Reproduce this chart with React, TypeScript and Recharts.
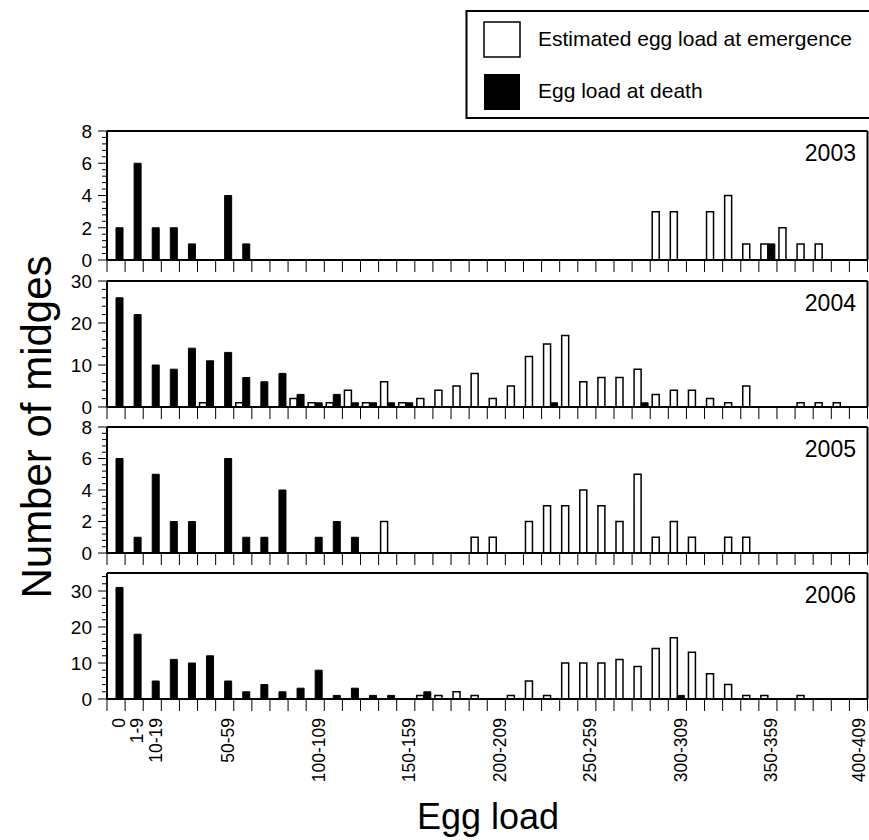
import React from 'react';
import { BarChart, Bar, XAxis, YAxis, ReferenceLine } from 'recharts';

const BINS = [
  '0', '1-9', '10-19', '20-29', '30-39', '40-49', '50-59', '60-69', '70-79', '80-89',
  '90-99', '100-109', '110-119', '120-129', '130-139', '140-149', '150-159', '160-169', '170-179', '180-189',
  '190-199', '200-209', '210-219', '220-229', '230-239', '240-249', '250-259', '260-269', '270-279', '280-289',
  '290-299', '300-309', '310-319', '320-329', '330-339', '340-349', '350-359', '360-369', '370-379', '380-389',
  '390-399', '400-409',
];

const TICK_LABELS = ['0', '1-9', '10-19', '50-59', '100-109', '150-159', '200-209', '250-259', '300-309', '350-359', '400-409'];

const YEARS = ['2003', '2004', '2005', '2006'];

// Estimated egg load at emergence (white bars)
const EM_2003 = [0,0,0,0,0,0,0,0,0,0, 0,0,0,0,0,0,0,0,0,0, 0,0,0,0,0,0,0,0,0,0, 3,3,0,3,4,1,1,2,1,1, 0,0];
const EM_2004 = [0,0,0,0,0,1,0,1,0,0, 2,1,1,4,1,6,1,2,4,5, 8,2,5,12,15,17,6,7,7,9, 3,4,4,2,1,5,0,0,1,1, 1,0];
const EM_2005 = [0,0,0,0,0,0,0,0,0,0, 0,0,0,0,0,2,0,0,0,0, 1,1,0,2,3,3,4,3,2,5, 1,2,1,0,1,1,0,0,0,0, 0,0];
const EM_2006 = [0,0,0,0,0,0,0,0,0,0, 0,0,0,0,0,0,0,1,1,2, 1,0,1,5,1,10,10,10,11,9, 14,17,13,7,4,1,1,0,1,0, 0,0];

// Egg load at death (black bars)
const DE_2003 = [2,6,2,2,1,0,4,1,0,0, 0,0,0,0,0,0,0,0,0,0, 0,0,0,0,0,0,0,0,0,0, 0,0,0,0,0,0,1,0,0,0, 0,0];
const DE_2004 = [26,22,10,9,14,11,13,7,6,8, 3,1,3,1,1,1,1,0,0,0, 0,0,0,0,1,0,0,0,0,1, 0,0,0,0,0,0,0,0,0,0, 0,0];
const DE_2005 = [6,1,5,2,2,0,6,1,1,4, 0,1,2,1,0,0,0,0,0,0, 0,0,0,0,0,0,0,0,0,0, 0,0,0,0,0,0,0,0,0,0, 0,0];
const DE_2006 = [31,18,5,11,10,12,5,2,4,2, 3,8,1,3,1,1,0,2,0,0, 0,0,0,0,0,0,0,0,0,0, 0,1,0,0,0,0,0,0,0,0, 0,0];

const EMERGENCE = [EM_2003, EM_2004, EM_2005, EM_2006];
const DEATH = [DE_2003, DE_2004, DE_2005, DE_2006];
const Y_MAX = [8, 30, 8, 35];
const Y_MINOR = [0.4, 2, 0.4, 2];
const Y_MAJOR = [2, 10, 2, 10];

const FONT = '"Liberation Sans", Arial, Helvetica, sans-serif';
const W = 869;
const Y_AXIS_W = 107;
const MARGIN_RIGHT = 1.5;
const PLOT_W = W - Y_AXIS_W - MARGIN_RIGHT;
const BIN_W = PLOT_W / BINS.length;
const PLOT_TOPS = [131, 281, 427, 573];
const PLOT_HS = [129, 126, 126, 126];
const MT = 14;

function makeTicks(max: number, step: number): number[] {
  const out: number[] = [];
  const n = Math.round(max / step);
  for (let i = 0; i <= n; i++) out.push(+(i * step).toFixed(4));
  return out.filter((v) => v <= max);
}

const X_TICKS = BINS.map((_, i) => i).concat([BINS.length]);

function YTick(props: any) {
  const { x, y, payload, major } = props;
  const v = payload.value;
  const isMajor = Math.abs(v / major - Math.round(v / major)) < 1e-6;
  return (
    <g>
      <line x1={x} x2={x - (isMajor ? 9 : 5)} y1={y} y2={y} stroke="#000" strokeWidth={1} />
      {isMajor ? (
        <text x={x - 15} y={y} dy="0.36em" textAnchor="end" fontSize={19} fontFamily={FONT} fill="#000">
          {String(Math.round(v))}
        </text>
      ) : null}
    </g>
  );
}

function XTick(props: any) {
  const { x, y, payload, show } = props;
  const i = payload.value;
  if (!show || i >= BINS.length) return <g />;
  const label = BINS[i];
  if (!TICK_LABELS.includes(label)) return <g />;
  const cx = Math.min(x + BIN_W / 2 + 3, W - 10);
  const ty = y + 7;
  return (
    <text
      x={cx}
      y={ty}
      dy="0.36em"
      transform={`rotate(-90, ${cx}, ${ty})`}
      textAnchor="end"
      fontSize={17.5}
      fontFamily={FONT}
      fill="#000"
    >
      {label}
    </text>
  );
}

function Panel({ idx }: { idx: number }) {
  const em = EMERGENCE[idx];
  const de = DEATH[idx];
  const data = BINS.map((b, i) => ({
    bin: b,
    pos: i + 0.5,
    em: em[i] === 0 ? null : em[i],
    de: de[i] === 0 ? null : de[i],
  }));
  const show = idx === 3;
  const axisH = show ? 100 : 20;
  const plotH = PLOT_HS[idx];
  const height = MT + plotH + axisH;
  const yMax = Y_MAX[idx];
  return (
    <div style={{ position: 'absolute', left: 0, top: PLOT_TOPS[idx] - MT, width: W, height }}>
      <BarChart
        width={W}
        height={height}
        data={data}
        margin={{ top: MT, right: MARGIN_RIGHT, left: 0, bottom: 0 }}
        barSize={7}
        barGap={0}
      >
        <XAxis
          dataKey="pos"
          type="number"
          domain={[0, BINS.length]}
          ticks={X_TICKS}
          interval={0}
          allowDataOverflow
          tickSize={12}
          tickMargin={0}
          height={axisH}
          axisLine={{ stroke: '#000', strokeWidth: 2 }}
          tickLine={{ stroke: '#000', strokeWidth: 1 }}
          tick={(p: any) => <XTick {...p} show={show} />}
        />
        <YAxis
          type="number"
          domain={[0, yMax]}
          ticks={makeTicks(yMax, Y_MINOR[idx])}
          interval={0}
          allowDataOverflow
          width={Y_AXIS_W}
          tickSize={0}
          tickMargin={0}
          tickLine={false}
          axisLine={{ stroke: '#000', strokeWidth: 2 }}
          tick={(p: any) => <YTick {...p} major={Y_MAJOR[idx]} />}
        />
        <ReferenceLine y={yMax} stroke="#000" strokeWidth={2} ifOverflow="visible" />
        <ReferenceLine x={BINS.length} stroke="#000" strokeWidth={2} ifOverflow="visible" />
        <Bar dataKey="em" fill="#fff" stroke="#000" strokeWidth={1.5} isAnimationActive={false} />
        <Bar dataKey="de" fill="#000" stroke="#000" strokeWidth={1} isAnimationActive={false} />
      </BarChart>
    </div>
  );
}

export default function App() {
  return (
    <div style={{ position: 'absolute', left: 0, top: 0, width: W, height: 840, background: '#fff', fontFamily: FONT }}>
      {YEARS.map((_, i) => (
        <Panel key={i} idx={i} />
      ))}
      <svg width={W} height={840} style={{ position: 'absolute', left: 0, top: 0, pointerEvents: 'none' }}>
        {/* legend */}
        <rect x={466.5} y={11} width={420} height={107} fill="none" stroke="#000" strokeWidth={2} />
        <rect x={484} y={22} width={36} height={35} fill="#fff" stroke="#000" strokeWidth={1.5} />
        <rect x={484} y={74} width={36} height={36} fill="#000" />
        <text x={538} y={38} dy="0.36em" fontSize={21} fontFamily={FONT} fill="#000">
          Estimated egg load at emergence
        </text>
        <text x={538} y={90} dy="0.36em" fontSize={21} fontFamily={FONT} fill="#000">
          Egg load at death
        </text>
        {/* year labels */}
        {YEARS.map((y, i) => (
          <text key={y} x={856} y={PLOT_TOPS[i] + 30} textAnchor="end" fontSize={23} fontFamily={FONT} fill="#000">
            {y}
          </text>
        ))}
        {/* axis titles */}
        <text
          x={51}
          y={427}
          transform="rotate(-90, 51, 427)"
          textAnchor="middle"
          fontSize={42}
          fontFamily={FONT}
          fill="#000"
        >
          Number of midges
        </text>
        <text x={488} y={829} textAnchor="middle" fontSize={36} fontFamily={FONT} fill="#000">
          Egg load
        </text>
      </svg>
    </div>
  );
}
